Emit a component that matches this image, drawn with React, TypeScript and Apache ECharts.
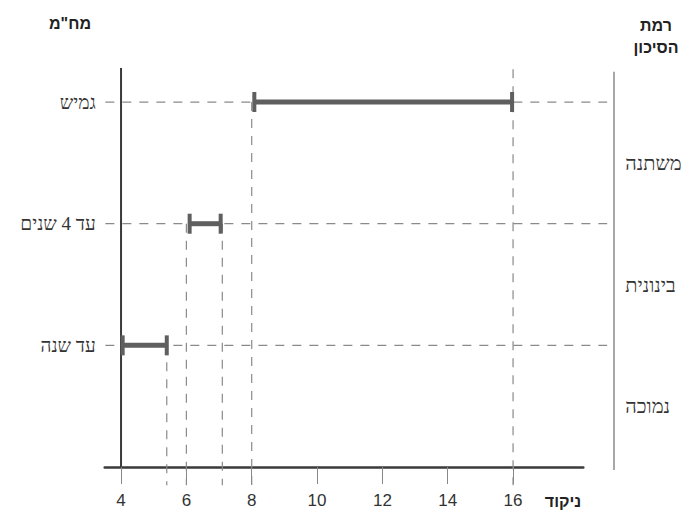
import React, { useEffect, useRef } from "react";
import * as echarts from "echarts";

const durationLabels = ["עד שנה", "עד 4 שנים", "גמיש"];
const durationRows = [1, 2, 3];
const riskLabels = ["נמוכה", "בינונית", "משתנה"];
const riskRows = [0.5, 1.5, 2.5];
const rangeStart = [4.05, 6.1, 8.08];
const rangeEnd = [5.4, 7.05, 15.97];
const guideX = [5.4, 6, 7.1, 8, 16];
const guideTop = [1, 2, 2, 3, 3.27];
const xTicks = [4, 6, 8, 10, 12, 14, 16];
const titleDuration = "מח\"מ";
const titleRisk = ["רמת", "הסיכון"];
const titleScore = "ניקוד";

const X_MIN = 3.5;
const X_MAX = 18.15;
const Y_MIN = 0;
const Y_MAX = 3.28;
const GUIDE_BOTTOM = -0.15;
const ROW_LINE_START = 3.52;
const ROW_LINE_END = 18.88;
const SEPARATOR_X = 19.09;

const HEB = "'Liberation Serif', 'DejaVu Serif', serif";
const SANS = "'Liberation Sans', 'DejaVu Sans', sans-serif";

export default function App() {
  const ref = useRef<HTMLDivElement>(null);
  useEffect(() => {
    if (!ref.current) return;
    const chart = echarts.init(ref.current, undefined, { renderer: "svg" });

    const lineShape = (p1: number[], p2: number[], style: any) => ({
      type: "line",
      shape: { x1: p1[0], y1: p1[1], x2: p2[0], y2: p2[1] },
      style,
    });

    const titleStyle = (text: string) => ({
      text,
      fontSize: 16,
      fontWeight: "bold",
      fontFamily: SANS,
      fill: "#222",
      align: "center",
      verticalAlign: "middle",
    });

    const option: any = {
      animation: false,
      backgroundColor: "#ffffff",
      grid: { left: 104.7, right: 105.7, top: 68, bottom: 49, containLabel: false },
      xAxis: {
        type: "value",
        min: X_MIN,
        max: X_MAX,
        axisLine: { show: true, lineStyle: { color: "#3a3a3a", width: 2.5 } },
        axisTick: {
          show: true,
          customValues: xTicks,
          length: 17,
          lineStyle: { color: "#888", width: 1 },
        },
        axisLabel: {
          customValues: xTicks,
          margin: 25,
          fontSize: 17,
          fontFamily: SANS,
          color: "#333",
        },
        splitLine: { show: false },
      },
      yAxis: [
        {
          type: "value",
          min: Y_MIN,
          max: Y_MAX,
          position: "left",
          axisLine: { show: false },
          axisTick: { show: false },
          splitLine: { show: false },
          axisLabel: {
            customValues: durationRows,
            margin: 9,
            fontSize: 19,
            fontFamily: HEB,
            color: "#333",
            formatter: (v: number) => durationLabels[durationRows.indexOf(v)] ?? "",
          },
        },
        {
          type: "value",
          min: Y_MIN,
          max: Y_MAX,
          position: "right",
          axisLine: { show: false },
          axisTick: { show: false },
          splitLine: { show: false },
          axisLabel: {
            customValues: riskRows,
            margin: 42,
            fontSize: 20,
            fontFamily: HEB,
            color: "#333",
            formatter: (v: number) => riskLabels[riskRows.indexOf(v)] ?? "",
          },
        },
      ],
      graphic: [
        { type: "text", x: 70, y: 23, style: titleStyle(titleDuration) },
        { type: "text", x: 656, y: 25, style: titleStyle(titleRisk[0]) },
        { type: "text", x: 656, y: 47, style: titleStyle(titleRisk[1]) },
        { type: "text", x: 563, y: 501, style: titleStyle(titleScore) },
      ],
      series: [
        {
          type: "custom",
          name: "rows",
          data: durationRows.map((r) => [ROW_LINE_START, ROW_LINE_END, r]),
          encode: { x: [0, 1], y: 2 },
          renderItem: (params: any, api: any) => {
            const p1 = api.coord([api.value(0), api.value(2)]);
            const p2 = api.coord([api.value(1), api.value(2)]);
            return lineShape(p1, p2, { stroke: "#8a8a8a", lineWidth: 1.2, lineDash: [9, 8] });
          },
          silent: true,
          z: 1,
        },
        {
          type: "custom",
          name: "guides",
          data: guideX.map((x, i) => [x, guideTop[i]]),
          encode: { x: 0, y: 1 },
          renderItem: (params: any, api: any) => {
            const p1 = api.coord([api.value(0), api.value(1)]);
            const p2 = api.coord([api.value(0), GUIDE_BOTTOM]);
            return lineShape(p1, p2, { stroke: "#8a8a8a", lineWidth: 1.2, lineDash: [9, 8] });
          },
          silent: true,
          z: 1,
        },
        {
          type: "custom",
          name: "frame",
          data: [
            [4, Y_MIN, Y_MAX, 0],
            [SEPARATOR_X, -0.025, 3.25, 1],
          ],
          encode: { x: 0, y: [1, 2] },
          renderItem: (params: any, api: any) => {
            const kind = api.value(3);
            const p1 = api.coord([api.value(0), api.value(1)]);
            const p2 = api.coord([api.value(0), api.value(2)]);
            return lineShape(
              p1,
              p2,
              kind === 0
                ? { stroke: "#3a3a3a", lineWidth: 2 }
                : { stroke: "#a8a8a8", lineWidth: 2 }
            );
          },
          silent: true,
          z: 3,
        },
        {
          type: "custom",
          name: "ranges",
          data: rangeStart.map((s, i) => [s, rangeEnd[i], durationRows[i]]),
          encode: { x: [0, 1], y: 2 },
          renderItem: (params: any, api: any) => {
            const p1 = api.coord([api.value(0), api.value(2)]);
            const p2 = api.coord([api.value(1), api.value(2)]);
            const color = "#5f5f5f";
            const capW = 4;
            const capH = 20;
            return {
              type: "group",
              children: [
                lineShape(p1, p2, { stroke: color, lineWidth: 5 }),
                {
                  type: "rect",
                  shape: { x: p1[0] - capW / 2, y: p1[1] - capH / 2, width: capW, height: capH },
                  style: { fill: color },
                },
                {
                  type: "rect",
                  shape: { x: p2[0] - capW / 2, y: p2[1] - capH / 2, width: capW, height: capH },
                  style: { fill: color },
                },
              ],
            };
          },
          silent: true,
          z: 5,
        },
      ],
    };

    chart.setOption(option);
    return () => chart.dispose();
  }, []);

  return (
    <div
      ref={ref}
      style={{ position: "fixed", left: 0, top: 0, width: 689, height: 516, background: "#fff" }}
    />
  );
}
